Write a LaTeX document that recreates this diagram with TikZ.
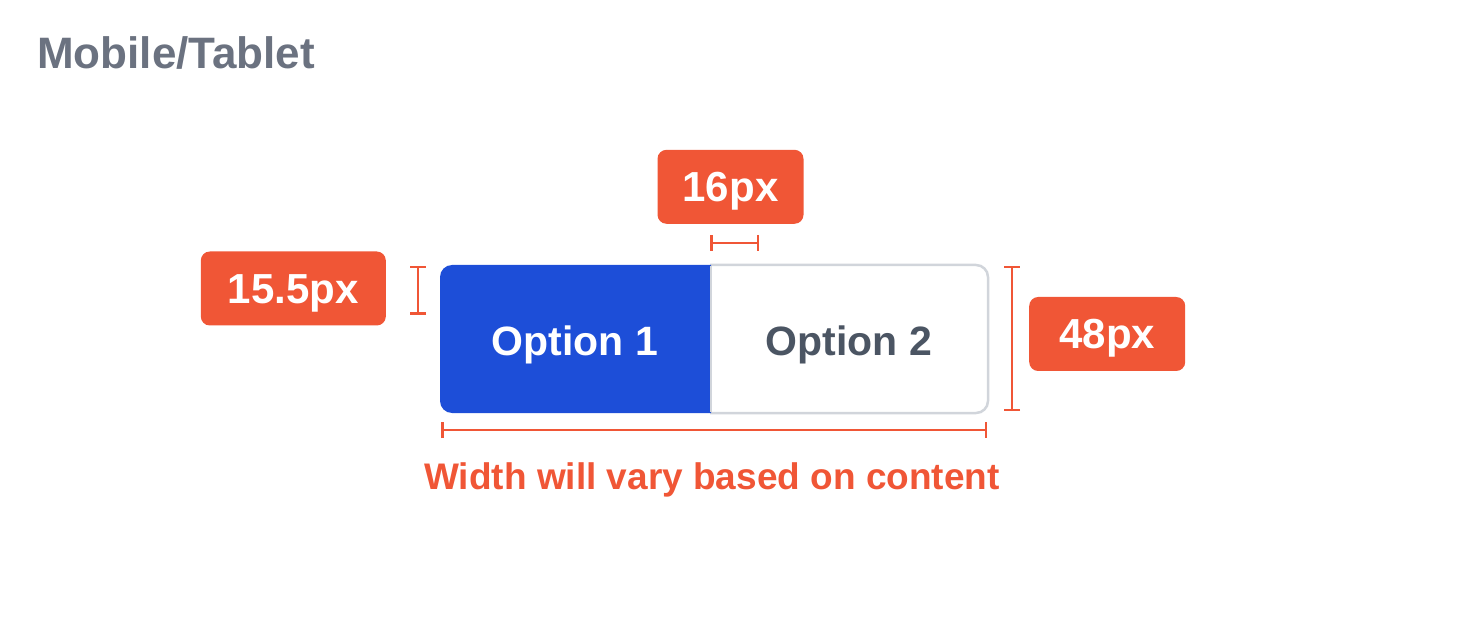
\documentclass[tikz,border=0pt]{standalone}
\usepackage{fontspec}
\setmainfont{Liberation Sans}
\usepackage{xcolor}
\usetikzlibrary{arrows.meta,positioning}
\definecolor{mark}{RGB}{240,86,54}
\definecolor{segblue}{RGB}{29,78,216}
\definecolor{seggray}{RGB}{209,213,219}
\definecolor{titlegray}{RGB}{107,114,128}
\definecolor{labgray}{RGB}{75,85,99}
\tikzset{
  badge/.style={fill=mark, rounded corners=9pt, text=white, minimum height=74pt,
    text height=30pt, text depth=0pt, inner sep=0pt, font=\bfseries\fontsize{42}{50}\selectfont},
  optlbl/.style={text height=30pt, text depth=0pt, inner sep=0pt,
    font=\bfseries\fontsize{41}{49}\selectfont},
  dim/.style={{Bar[width=16pt, line width=2.5pt]}-{Bar[width=16pt, line width=2.5pt]},
    draw=mark, line width=2.5pt},
  segline/.style={draw=seggray, line width=2.5pt}
}

\begin{document}
\begin{tikzpicture}[x=1pt, y=-1pt, node distance=19pt and 17pt]
  \useasboundingbox (0,0) rectangle (1476,636);
  \node[anchor=base west, text=titlegray, inner sep=0pt,
    font=\bfseries\fontsize{44}{52}\selectfont] (title) at (37,69) {Mobile/Tablet};

  % segmented control
  \draw[segline, rounded corners=12pt] (710,265) -- (988,265) -- (988,413) -- (710,413);
  \fill[segblue] (711,413) [rounded corners=12pt] -- (440,413) -- (440,265) [sharp corners] -- (711,265) -- cycle;
  \draw[seggray, line width=2pt] (710.5,266) -- (710.5,412);
  \node[optlbl, text=white] (opt1) at (575,341) {Option 1};
  \node[optlbl, text=labgray] (opt2) at (849,341) {Option 2};

  % dimension marks
  \coordinate (g0) at (710,243);
  \coordinate (g1) at (759,243);
  \coordinate (p0) at (418,266);
  \coordinate (p1) at (418,315);
  \coordinate (h0) at (1012,266);
  \coordinate (h1) at (1012,411);
  \coordinate (w0) at (441,430);
  \coordinate (w1) at (987,430);
  \draw[dim] (g0) -- coordinate (gm) (g1);
  \draw[dim] (p0) -- coordinate (pm) (p1);
  \draw[dim] (h0) -- coordinate (hm) (h1);
  \draw[dim] (w0) -- coordinate (wm) (w1);

  \node[badge, minimum width=146pt, above=19pt of gm, xshift=-4pt] (gap) {16px};
  \node[badge, minimum width=185pt, left=32pt of pm, yshift=2pt] (pad) {15.5px};
  \node[badge, minimum width=156pt, right=17pt of hm, yshift=4.5pt] (height) {48px};
  \node[anchor=base, text=mark, inner sep=0pt,
    font=\bfseries\fontsize{37}{44}\selectfont] (note) at (712,489) {Width will vary based on content};
\end{tikzpicture}
\end{document}
